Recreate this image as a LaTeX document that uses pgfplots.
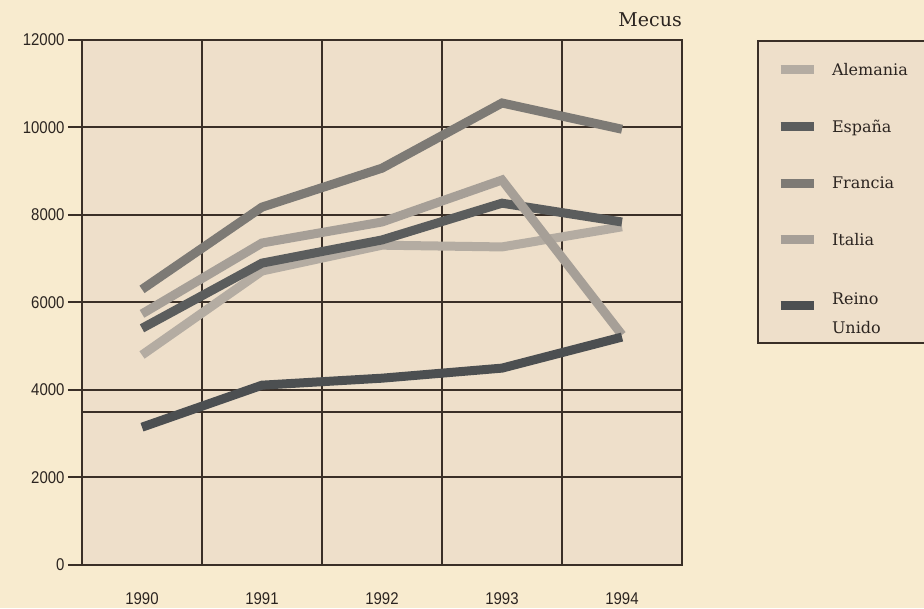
\documentclass[border=0pt]{standalone}
\usepackage{pgfplots}
\pgfplotsset{compat=1.18}
\usepackage{fontspec}
\setmainfont{DejaVu Serif}
\newfontfamily\tickfont[FakeStretch=0.88]{Liberation Sans}
\definecolor{pagebg}{HTML}{F8EBCF}
\definecolor{plotbg}{HTML}{EEDFCA}
\definecolor{gridc}{HTML}{3A2F27}
\definecolor{txt}{HTML}{2B2420}
\definecolor{cAle}{HTML}{B4ACA2}
\definecolor{cEsp}{HTML}{5B5D5D}
\definecolor{cFra}{HTML}{7D7A75}
\definecolor{cIta}{HTML}{A69F97}
\definecolor{cRei}{HTML}{4C4F51}
\begin{document}
\begin{tikzpicture}
\path[use as bounding box, fill=pagebg] (0,0) rectangle (924pt,608pt);
\clip (0,0) rectangle (924pt,608pt);
\begin{axis}[
  at={(82pt,43pt)}, anchor=south west,
  width=600pt, height=525pt, scale only axis,
  xmin=-0.5, xmax=4.5, ymin=0, ymax=12000,
  axis background/.style={fill=plotbg},
  axis line style={gridc, line width=2pt},
  xtick={0,1,2,3,4}, xticklabels={1990,1991,1992,1993,1994},
  minor xtick={0.5,1.5,2.5,3.5},
  xminorgrids, ymajorgrids,
  ytick={0,2000,4000,6000,8000,10000,12000},
  extra y ticks={3500}, extra y tick labels={},
  extra y tick style={grid=major, major tick length=0pt},
  tick align=outside, major tick length=14pt, minor tick length=0pt,
  ytick pos=left, xtick pos=bottom,
  major x tick style={draw=none},
  tick style={gridc, line width=2pt},
  grid style={gridc, line width=2pt},
  minor grid style={gridc, line width=2pt},
  scaled y ticks=false,
  /pgf/number format/assume math mode=true,
  /pgf/number format/1000 sep={},
  ticklabel style={font=\tickfont\fontsize{17}{20}\selectfont, text=txt},
  xticklabel style={yshift=-10pt},
  title={Mecus},
  title style={at={(rel axis cs:1,1)}, anchor=base east, yshift=7pt, inner sep=0pt,
    font=\fontsize{19}{22}\selectfont, text=txt},
  legend style={at={(rel axis cs:1,1)}, anchor=north west, xshift=75pt,
    fill=plotbg, draw=gridc, line width=2pt, inner xsep=18pt, inner ysep=20pt,
    row sep=39pt,
    font=\fontsize{16}{22}\selectfont, text=txt,
    nodes={text width=110pt}},
  legend cell align=left,
  legend image code/.code={\draw[#1, line width=9pt, line cap=butt] (0pt,0pt) -- (33pt,0pt); \path (45pt,0pt);},
  every axis plot/.append style={line width=9pt, line join=miter},
]
\addplot[cAle] coordinates {(0,4800) (1,6720) (2,7310) (3,7270) (4,7730)};
\addlegendentry{Alemania}
\addplot[cEsp] coordinates {(0,5410) (1,6900) (2,7430) (3,8270) (4,7840)};
\addlegendentry{España}
\addplot[cFra] coordinates {(0,6300) (1,8180) (2,9070) (3,10560) (4,9960)};
\addlegendentry{Francia}
\addplot[cIta] coordinates {(0,5740) (1,7360) (2,7840) (3,8800) (4,5260)};
\addlegendentry{Italia}
\addplot[cRei] coordinates {(0,3150) (1,4110) (2,4270) (3,4500) (4,5210)};
\addlegendentry{\begin{tabular}{@{}l@{}}Reino\\[7pt]Unido\end{tabular}}
\end{axis}
\end{tikzpicture}
\end{document}
